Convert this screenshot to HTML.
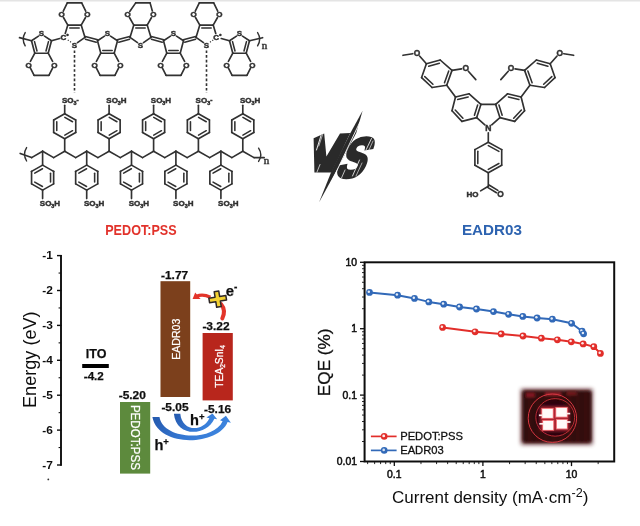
<!DOCTYPE html>
<html><head><meta charset="utf-8"><title>PEDOT:PSS vs EADR03</title>
<style>
html,body{margin:0;padding:0;background:#fff;}
body{width:640px;height:526px;overflow:hidden;font-family:"Liberation Sans",sans-serif;}
svg{display:block;}
</style></head><body>
<svg width="640" height="526" viewBox="0 0 640 526">
<defs>
<filter id="soft" x="-5%" y="-5%" width="110%" height="110%"><feGaussianBlur stdDeviation="0.35"/></filter>
<filter id="soft2" x="-10%" y="-10%" width="120%" height="120%"><feGaussianBlur stdDeviation="0.6"/></filter>
<filter id="soft3" x="-10%" y="-10%" width="120%" height="120%"><feGaussianBlur stdDeviation="0.75"/></filter>
<filter id="blur1" x="-10%" y="-10%" width="120%" height="120%"><feGaussianBlur stdDeviation="0.9"/></filter>
<filter id="blur2" x="-20%" y="-20%" width="140%" height="140%"><feGaussianBlur stdDeviation="1.5"/></filter>
<filter id="blur3" x="-20%" y="-20%" width="140%" height="140%"><feGaussianBlur stdDeviation="2.2"/></filter>
<radialGradient id="ballR" cx="35%" cy="35%" r="65%"><stop offset="0" stop-color="#ffd0cc"/><stop offset="0.35" stop-color="#ee3b34"/><stop offset="1" stop-color="#d81f1f"/></radialGradient>
<radialGradient id="ballB" cx="35%" cy="35%" r="65%"><stop offset="0" stop-color="#dfeeff"/><stop offset="0.4" stop-color="#4f8bd0"/><stop offset="1" stop-color="#2d68b4"/></radialGradient>
<linearGradient id="arrB" x1="0" y1="0" x2="1" y2="0.25"><stop offset="0" stop-color="#2458ac"/><stop offset="0.55" stop-color="#3577d2"/><stop offset="1" stop-color="#3c84de"/></linearGradient>
</defs>
<rect width="640" height="526" fill="#ffffff"/>
<rect x="0" y="0" width="640" height="1.5" fill="#e4e4e4"/>
<g filter="url(#soft)">
<line x1="38.5" y1="36.18" x2="31.5" y2="40.8" stroke="#303030" stroke-width="1.65" stroke-linecap="round" />
<line x1="44.5" y1="36.18" x2="51.5" y2="40.8" stroke="#303030" stroke-width="1.65" stroke-linecap="round" />
<line x1="31.5" y1="40.8" x2="34.8" y2="53.2" stroke="#303030" stroke-width="1.65" stroke-linecap="round" />
<line x1="34.8" y1="53.2" x2="48.2" y2="53.2" stroke="#303030" stroke-width="1.65" stroke-linecap="round" />
<line x1="48.2" y1="53.2" x2="51.5" y2="40.8" stroke="#303030" stroke-width="1.65" stroke-linecap="round" />
<line x1="34.52" y1="41.65" x2="37" y2="50.96" stroke="#303030" stroke-width="1.55" stroke-linecap="round" />
<line x1="46" y1="50.96" x2="48.48" y2="41.65" stroke="#303030" stroke-width="1.55" stroke-linecap="round" />
<line x1="34.8" y1="53.2" x2="30.4" y2="61.43" stroke="#303030" stroke-width="1.65" stroke-linecap="round" />
<line x1="48.2" y1="53.2" x2="52.6" y2="61.43" stroke="#303030" stroke-width="1.65" stroke-linecap="round" />
<line x1="30.32" y1="67.81" x2="34.1" y2="75.3" stroke="#303030" stroke-width="1.65" stroke-linecap="round" />
<line x1="52.68" y1="67.81" x2="48.9" y2="75.3" stroke="#303030" stroke-width="1.65" stroke-linecap="round" />
<line x1="34.1" y1="75.3" x2="48.9" y2="75.3" stroke="#303030" stroke-width="1.65" stroke-linecap="round" />
<text x="41.5" y="36.2" font-family="'Liberation Sans', sans-serif" font-size="8" font-weight="bold" text-anchor="middle" fill="#303030"  stroke="#303030" stroke-width="0.45">S</text>
<text x="28.7" y="67.5" font-family="'Liberation Sans', sans-serif" font-size="8" font-weight="bold" text-anchor="middle" fill="#303030"  stroke="#303030" stroke-width="0.45">O</text>
<text x="54.3" y="67.5" font-family="'Liberation Sans', sans-serif" font-size="8" font-weight="bold" text-anchor="middle" fill="#303030"  stroke="#303030" stroke-width="0.45">O</text>
<line x1="77.47" y1="42.56" x2="85" y2="37.4" stroke="#303030" stroke-width="1.65" stroke-linecap="round" />
<line x1="65.24" y1="33.39" x2="67.8" y2="25.1" stroke="#303030" stroke-width="1.65" stroke-linecap="round" />
<line x1="67.8" y1="25.1" x2="81.2" y2="25.1" stroke="#303030" stroke-width="1.65" stroke-linecap="round" />
<line x1="81.2" y1="25.1" x2="85" y2="37.4" stroke="#303030" stroke-width="1.65" stroke-linecap="round" />
<line x1="69.8" y1="27.9" x2="79.2" y2="27.9" stroke="#303030" stroke-width="1.55" stroke-linecap="round" />
<line x1="67.8" y1="25.1" x2="63.48" y2="17.53" stroke="#303030" stroke-width="1.65" stroke-linecap="round" />
<line x1="81.2" y1="25.1" x2="85.52" y2="17.53" stroke="#303030" stroke-width="1.65" stroke-linecap="round" />
<line x1="63.28" y1="11.16" x2="67.3" y2="2.9" stroke="#303030" stroke-width="1.65" stroke-linecap="round" />
<line x1="85.72" y1="11.16" x2="81.7" y2="2.9" stroke="#303030" stroke-width="1.65" stroke-linecap="round" />
<line x1="67.3" y1="2.9" x2="81.7" y2="2.9" stroke="#303030" stroke-width="1.65" stroke-linecap="round" />
<text x="74.5" y="47.5" font-family="'Liberation Sans', sans-serif" font-size="8" font-weight="bold" text-anchor="middle" fill="#303030"  stroke="#303030" stroke-width="0.45">S</text>
<text x="61.7" y="17.3" font-family="'Liberation Sans', sans-serif" font-size="8" font-weight="bold" text-anchor="middle" fill="#303030"  stroke="#303030" stroke-width="0.45">O</text>
<text x="87.3" y="17.3" font-family="'Liberation Sans', sans-serif" font-size="8" font-weight="bold" text-anchor="middle" fill="#303030"  stroke="#303030" stroke-width="0.45">O</text>
<line x1="104.5" y1="36.18" x2="97.5" y2="40.8" stroke="#303030" stroke-width="1.65" stroke-linecap="round" />
<line x1="110.5" y1="36.18" x2="117.5" y2="40.8" stroke="#303030" stroke-width="1.65" stroke-linecap="round" />
<line x1="97.5" y1="40.8" x2="100.8" y2="53.2" stroke="#303030" stroke-width="1.65" stroke-linecap="round" />
<line x1="100.8" y1="53.2" x2="114.2" y2="53.2" stroke="#303030" stroke-width="1.65" stroke-linecap="round" />
<line x1="114.2" y1="53.2" x2="117.5" y2="40.8" stroke="#303030" stroke-width="1.65" stroke-linecap="round" />
<line x1="102.8" y1="50.4" x2="112.2" y2="50.4" stroke="#303030" stroke-width="1.55" stroke-linecap="round" />
<line x1="100.8" y1="53.2" x2="96.4" y2="61.43" stroke="#303030" stroke-width="1.65" stroke-linecap="round" />
<line x1="114.2" y1="53.2" x2="118.6" y2="61.43" stroke="#303030" stroke-width="1.65" stroke-linecap="round" />
<line x1="96.32" y1="67.81" x2="100.1" y2="75.3" stroke="#303030" stroke-width="1.65" stroke-linecap="round" />
<line x1="118.68" y1="67.81" x2="114.9" y2="75.3" stroke="#303030" stroke-width="1.65" stroke-linecap="round" />
<line x1="100.1" y1="75.3" x2="114.9" y2="75.3" stroke="#303030" stroke-width="1.65" stroke-linecap="round" />
<text x="107.5" y="36.2" font-family="'Liberation Sans', sans-serif" font-size="8" font-weight="bold" text-anchor="middle" fill="#303030"  stroke="#303030" stroke-width="0.45">S</text>
<text x="94.7" y="67.5" font-family="'Liberation Sans', sans-serif" font-size="8" font-weight="bold" text-anchor="middle" fill="#303030"  stroke="#303030" stroke-width="0.45">O</text>
<text x="120.3" y="67.5" font-family="'Liberation Sans', sans-serif" font-size="8" font-weight="bold" text-anchor="middle" fill="#303030"  stroke="#303030" stroke-width="0.45">O</text>
<line x1="137.53" y1="42.56" x2="130" y2="37.4" stroke="#303030" stroke-width="1.65" stroke-linecap="round" />
<line x1="143.47" y1="42.56" x2="151" y2="37.4" stroke="#303030" stroke-width="1.65" stroke-linecap="round" />
<line x1="130" y1="37.4" x2="133.8" y2="25.1" stroke="#303030" stroke-width="1.65" stroke-linecap="round" />
<line x1="133.8" y1="25.1" x2="147.2" y2="25.1" stroke="#303030" stroke-width="1.65" stroke-linecap="round" />
<line x1="147.2" y1="25.1" x2="151" y2="37.4" stroke="#303030" stroke-width="1.65" stroke-linecap="round" />
<line x1="135.8" y1="27.9" x2="145.2" y2="27.9" stroke="#303030" stroke-width="1.55" stroke-linecap="round" />
<line x1="133.8" y1="25.1" x2="129.48" y2="17.53" stroke="#303030" stroke-width="1.65" stroke-linecap="round" />
<line x1="147.2" y1="25.1" x2="151.52" y2="17.53" stroke="#303030" stroke-width="1.65" stroke-linecap="round" />
<line x1="129.76" y1="11.44" x2="135.7" y2="2.9" stroke="#303030" stroke-width="1.65" stroke-linecap="round" />
<line x1="152.33" y1="10.93" x2="150.1" y2="2.9" stroke="#303030" stroke-width="1.65" stroke-linecap="round" />
<line x1="135.7" y1="2.9" x2="150.1" y2="2.9" stroke="#303030" stroke-width="1.65" stroke-linecap="round" />
<text x="140.5" y="47.5" font-family="'Liberation Sans', sans-serif" font-size="8" font-weight="bold" text-anchor="middle" fill="#303030"  stroke="#303030" stroke-width="0.45">S</text>
<text x="127.7" y="17.3" font-family="'Liberation Sans', sans-serif" font-size="8" font-weight="bold" text-anchor="middle" fill="#303030"  stroke="#303030" stroke-width="0.45">O</text>
<text x="153.3" y="17.3" font-family="'Liberation Sans', sans-serif" font-size="8" font-weight="bold" text-anchor="middle" fill="#303030"  stroke="#303030" stroke-width="0.45">O</text>
<line x1="170.5" y1="36.18" x2="163.5" y2="40.8" stroke="#303030" stroke-width="1.65" stroke-linecap="round" />
<line x1="176.5" y1="36.18" x2="183.5" y2="40.8" stroke="#303030" stroke-width="1.65" stroke-linecap="round" />
<line x1="163.5" y1="40.8" x2="166.8" y2="53.2" stroke="#303030" stroke-width="1.65" stroke-linecap="round" />
<line x1="166.8" y1="53.2" x2="180.2" y2="53.2" stroke="#303030" stroke-width="1.65" stroke-linecap="round" />
<line x1="180.2" y1="53.2" x2="183.5" y2="40.8" stroke="#303030" stroke-width="1.65" stroke-linecap="round" />
<line x1="168.8" y1="50.4" x2="178.2" y2="50.4" stroke="#303030" stroke-width="1.55" stroke-linecap="round" />
<line x1="166.8" y1="53.2" x2="162.4" y2="61.43" stroke="#303030" stroke-width="1.65" stroke-linecap="round" />
<line x1="180.2" y1="53.2" x2="184.6" y2="61.43" stroke="#303030" stroke-width="1.65" stroke-linecap="round" />
<line x1="162.32" y1="67.81" x2="166.1" y2="75.3" stroke="#303030" stroke-width="1.65" stroke-linecap="round" />
<line x1="184.68" y1="67.81" x2="180.9" y2="75.3" stroke="#303030" stroke-width="1.65" stroke-linecap="round" />
<line x1="166.1" y1="75.3" x2="180.9" y2="75.3" stroke="#303030" stroke-width="1.65" stroke-linecap="round" />
<text x="173.5" y="36.2" font-family="'Liberation Sans', sans-serif" font-size="8" font-weight="bold" text-anchor="middle" fill="#303030"  stroke="#303030" stroke-width="0.45">S</text>
<text x="160.7" y="67.5" font-family="'Liberation Sans', sans-serif" font-size="8" font-weight="bold" text-anchor="middle" fill="#303030"  stroke="#303030" stroke-width="0.45">O</text>
<text x="186.3" y="67.5" font-family="'Liberation Sans', sans-serif" font-size="8" font-weight="bold" text-anchor="middle" fill="#303030"  stroke="#303030" stroke-width="0.45">O</text>
<line x1="203.53" y1="42.56" x2="196" y2="37.4" stroke="#303030" stroke-width="1.65" stroke-linecap="round" />
<line x1="196" y1="37.4" x2="199.8" y2="25.1" stroke="#303030" stroke-width="1.65" stroke-linecap="round" />
<line x1="199.8" y1="25.1" x2="213.2" y2="25.1" stroke="#303030" stroke-width="1.65" stroke-linecap="round" />
<line x1="213.2" y1="25.1" x2="215.76" y2="33.39" stroke="#303030" stroke-width="1.65" stroke-linecap="round" />
<line x1="201.8" y1="27.9" x2="211.2" y2="27.9" stroke="#303030" stroke-width="1.55" stroke-linecap="round" />
<line x1="199.8" y1="25.1" x2="195.48" y2="17.53" stroke="#303030" stroke-width="1.65" stroke-linecap="round" />
<line x1="213.2" y1="25.1" x2="217.52" y2="17.53" stroke="#303030" stroke-width="1.65" stroke-linecap="round" />
<line x1="195.28" y1="11.16" x2="199.3" y2="2.9" stroke="#303030" stroke-width="1.65" stroke-linecap="round" />
<line x1="217.72" y1="11.16" x2="213.7" y2="2.9" stroke="#303030" stroke-width="1.65" stroke-linecap="round" />
<line x1="199.3" y1="2.9" x2="213.7" y2="2.9" stroke="#303030" stroke-width="1.65" stroke-linecap="round" />
<text x="206.5" y="47.5" font-family="'Liberation Sans', sans-serif" font-size="8" font-weight="bold" text-anchor="middle" fill="#303030"  stroke="#303030" stroke-width="0.45">S</text>
<text x="193.7" y="17.3" font-family="'Liberation Sans', sans-serif" font-size="8" font-weight="bold" text-anchor="middle" fill="#303030"  stroke="#303030" stroke-width="0.45">O</text>
<text x="219.3" y="17.3" font-family="'Liberation Sans', sans-serif" font-size="8" font-weight="bold" text-anchor="middle" fill="#303030"  stroke="#303030" stroke-width="0.45">O</text>
<line x1="236.5" y1="36.18" x2="229.5" y2="40.8" stroke="#303030" stroke-width="1.65" stroke-linecap="round" />
<line x1="242.5" y1="36.18" x2="249.5" y2="40.8" stroke="#303030" stroke-width="1.65" stroke-linecap="round" />
<line x1="229.5" y1="40.8" x2="232.8" y2="53.2" stroke="#303030" stroke-width="1.65" stroke-linecap="round" />
<line x1="232.8" y1="53.2" x2="246.2" y2="53.2" stroke="#303030" stroke-width="1.65" stroke-linecap="round" />
<line x1="246.2" y1="53.2" x2="249.5" y2="40.8" stroke="#303030" stroke-width="1.65" stroke-linecap="round" />
<line x1="232.52" y1="41.65" x2="235" y2="50.96" stroke="#303030" stroke-width="1.55" stroke-linecap="round" />
<line x1="244" y1="50.96" x2="246.48" y2="41.65" stroke="#303030" stroke-width="1.55" stroke-linecap="round" />
<line x1="232.8" y1="53.2" x2="228.4" y2="61.43" stroke="#303030" stroke-width="1.65" stroke-linecap="round" />
<line x1="246.2" y1="53.2" x2="250.6" y2="61.43" stroke="#303030" stroke-width="1.65" stroke-linecap="round" />
<line x1="228.32" y1="67.81" x2="232.1" y2="75.3" stroke="#303030" stroke-width="1.65" stroke-linecap="round" />
<line x1="250.68" y1="67.81" x2="246.9" y2="75.3" stroke="#303030" stroke-width="1.65" stroke-linecap="round" />
<line x1="232.1" y1="75.3" x2="246.9" y2="75.3" stroke="#303030" stroke-width="1.65" stroke-linecap="round" />
<text x="239.5" y="36.2" font-family="'Liberation Sans', sans-serif" font-size="8" font-weight="bold" text-anchor="middle" fill="#303030"  stroke="#303030" stroke-width="0.45">S</text>
<text x="226.7" y="67.5" font-family="'Liberation Sans', sans-serif" font-size="8" font-weight="bold" text-anchor="middle" fill="#303030"  stroke="#303030" stroke-width="0.45">O</text>
<text x="252.3" y="67.5" font-family="'Liberation Sans', sans-serif" font-size="8" font-weight="bold" text-anchor="middle" fill="#303030"  stroke="#303030" stroke-width="0.45">O</text>
<text x="216.1" y="40.3" font-family="'Liberation Sans', sans-serif" font-size="8" font-weight="bold" text-anchor="middle" fill="#303030"  stroke="#303030" stroke-width="0.45">C</text>
<text x="220.3" y="37" font-family="'Liberation Sans', sans-serif" font-size="7.4" font-weight="bold" text-anchor="middle" fill="#303030"  stroke="#303030" stroke-width="0.45">&#8226;</text>
<line x1="213.21" y1="40" x2="209.63" y2="42.45" stroke="#303030" stroke-width="1.2" stroke-linecap="butt" stroke-dasharray="1.1 1.7"/>
<text x="63.4" y="40.3" font-family="'Liberation Sans', sans-serif" font-size="8" font-weight="bold" text-anchor="middle" fill="#303030"  stroke="#303030" stroke-width="0.45">C</text>
<text x="67.6" y="37" font-family="'Liberation Sans', sans-serif" font-size="7.4" font-weight="bold" text-anchor="middle" fill="#303030"  stroke="#303030" stroke-width="0.45">&#8226;</text>
<line x1="67.79" y1="40" x2="71.37" y2="42.45" stroke="#303030" stroke-width="1.2" stroke-linecap="butt" stroke-dasharray="1.1 1.7"/>
<line x1="51.5" y1="40.8" x2="59.75" y2="38.55" stroke="#303030" stroke-width="1.65" stroke-linecap="round" />
<line x1="85.26" y1="36.44" x2="97.76" y2="39.84" stroke="#303030" stroke-width="1.55" stroke-linecap="round" />
<line x1="85.42" y1="39.28" x2="96.19" y2="42.2" stroke="#303030" stroke-width="1.55" stroke-linecap="round" />
<line x1="117.24" y1="39.84" x2="129.74" y2="36.44" stroke="#303030" stroke-width="1.55" stroke-linecap="round" />
<line x1="118.81" y1="42.2" x2="129.58" y2="39.28" stroke="#303030" stroke-width="1.55" stroke-linecap="round" />
<line x1="151.26" y1="36.44" x2="163.76" y2="39.84" stroke="#303030" stroke-width="1.55" stroke-linecap="round" />
<line x1="151.42" y1="39.28" x2="162.19" y2="42.2" stroke="#303030" stroke-width="1.55" stroke-linecap="round" />
<line x1="183.24" y1="39.84" x2="195.74" y2="36.44" stroke="#303030" stroke-width="1.55" stroke-linecap="round" />
<line x1="184.81" y1="42.2" x2="195.58" y2="39.28" stroke="#303030" stroke-width="1.55" stroke-linecap="round" />
<line x1="221.25" y1="38.55" x2="229.5" y2="40.8" stroke="#303030" stroke-width="1.65" stroke-linecap="round" />
<line x1="19.5" y1="37.6" x2="31.5" y2="40.8" stroke="#303030" stroke-width="1.65" stroke-linecap="round" />
<path d="M25.2 32.6 Q21.2 39.2 25.2 45.8" fill="none" stroke="#303030" stroke-width="1.4" stroke-linecap="round"/>
<line x1="249.5" y1="40.8" x2="262.6" y2="37.7" stroke="#303030" stroke-width="1.65" stroke-linecap="round" />
<path d="M257.6 32.6 Q261.8 39.2 257.6 45.8" fill="none" stroke="#303030" stroke-width="1.4" stroke-linecap="round"/>
<text x="264.6" y="49" font-family="'Liberation Serif', sans-serif" font-size="11" font-weight="normal" text-anchor="middle" fill="#303030"  stroke="#303030" stroke-width="0.45">n</text>
<line x1="74.5" y1="50.4" x2="74.5" y2="93" stroke="#303030" stroke-width="1.6" stroke-linecap="butt" stroke-dasharray="2.6 2.1"/>
<line x1="206.5" y1="50.4" x2="206.5" y2="93" stroke="#303030" stroke-width="1.6" stroke-linecap="butt" stroke-dasharray="2.6 2.1"/>
<line x1="31.6" y1="157.6" x2="42.6" y2="151.2" stroke="#303030" stroke-width="1.65" stroke-linecap="round" />
<line x1="42.6" y1="151.2" x2="53.65" y2="157.6" stroke="#303030" stroke-width="1.65" stroke-linecap="round" />
<line x1="53.65" y1="157.6" x2="64.7" y2="151.2" stroke="#303030" stroke-width="1.65" stroke-linecap="round" />
<line x1="64.7" y1="151.2" x2="75.7" y2="157.6" stroke="#303030" stroke-width="1.65" stroke-linecap="round" />
<line x1="75.7" y1="157.6" x2="86.7" y2="151.2" stroke="#303030" stroke-width="1.65" stroke-linecap="round" />
<line x1="86.7" y1="151.2" x2="97.9" y2="157.6" stroke="#303030" stroke-width="1.65" stroke-linecap="round" />
<line x1="97.9" y1="157.6" x2="109.1" y2="151.2" stroke="#303030" stroke-width="1.65" stroke-linecap="round" />
<line x1="109.1" y1="151.2" x2="120.3" y2="157.6" stroke="#303030" stroke-width="1.65" stroke-linecap="round" />
<line x1="120.3" y1="157.6" x2="131.5" y2="151.2" stroke="#303030" stroke-width="1.65" stroke-linecap="round" />
<line x1="131.5" y1="151.2" x2="142.55" y2="157.6" stroke="#303030" stroke-width="1.65" stroke-linecap="round" />
<line x1="142.55" y1="157.6" x2="153.6" y2="151.2" stroke="#303030" stroke-width="1.65" stroke-linecap="round" />
<line x1="153.6" y1="151.2" x2="164.75" y2="157.6" stroke="#303030" stroke-width="1.65" stroke-linecap="round" />
<line x1="164.75" y1="157.6" x2="175.9" y2="151.2" stroke="#303030" stroke-width="1.65" stroke-linecap="round" />
<line x1="175.9" y1="151.2" x2="187.15" y2="157.6" stroke="#303030" stroke-width="1.65" stroke-linecap="round" />
<line x1="187.15" y1="157.6" x2="198.4" y2="151.2" stroke="#303030" stroke-width="1.65" stroke-linecap="round" />
<line x1="198.4" y1="151.2" x2="209.65" y2="157.6" stroke="#303030" stroke-width="1.65" stroke-linecap="round" />
<line x1="209.65" y1="157.6" x2="220.9" y2="151.2" stroke="#303030" stroke-width="1.65" stroke-linecap="round" />
<line x1="220.9" y1="151.2" x2="231.85" y2="157.6" stroke="#303030" stroke-width="1.65" stroke-linecap="round" />
<line x1="231.85" y1="157.6" x2="242.8" y2="151.2" stroke="#303030" stroke-width="1.65" stroke-linecap="round" />
<line x1="242.8" y1="151.2" x2="254" y2="157.6" stroke="#303030" stroke-width="1.65" stroke-linecap="round" />
<line x1="20.2" y1="153.4" x2="31.6" y2="157.6" stroke="#303030" stroke-width="1.65" stroke-linecap="round" />
<path d="M26.6 147.6 Q22.4 154.2 26.6 161.0" fill="none" stroke="#303030" stroke-width="1.4" stroke-linecap="round"/>
<line x1="254" y1="157.6" x2="264.2" y2="157.6" stroke="#303030" stroke-width="1.65" stroke-linecap="round" />
<path d="M258.6 148.2 Q263.0 154.8 258.6 161.4" fill="none" stroke="#303030" stroke-width="1.4" stroke-linecap="round"/>
<text x="266.4" y="163.8" font-family="'Liberation Serif', sans-serif" font-size="11" font-weight="normal" text-anchor="middle" fill="#303030"  stroke="#303030" stroke-width="0.45">n</text>
<line x1="64.7" y1="113.7" x2="75.74" y2="119.95" stroke="#303030" stroke-width="1.65" stroke-linecap="round" />
<line x1="75.74" y1="119.95" x2="75.74" y2="132.45" stroke="#303030" stroke-width="1.65" stroke-linecap="round" />
<line x1="75.74" y1="132.45" x2="64.7" y2="138.7" stroke="#303030" stroke-width="1.65" stroke-linecap="round" />
<line x1="64.7" y1="138.7" x2="53.66" y2="132.45" stroke="#303030" stroke-width="1.65" stroke-linecap="round" />
<line x1="53.66" y1="132.45" x2="53.66" y2="119.95" stroke="#303030" stroke-width="1.65" stroke-linecap="round" />
<line x1="53.66" y1="119.95" x2="64.7" y2="113.7" stroke="#303030" stroke-width="1.65" stroke-linecap="round" />
<line x1="64.83" y1="117.33" x2="72.56" y2="121.71" stroke="#303030" stroke-width="1.55" stroke-linecap="round" />
<line x1="72.56" y1="130.69" x2="64.83" y2="135.07" stroke="#303030" stroke-width="1.55" stroke-linecap="round" />
<line x1="56.76" y1="130.55" x2="56.76" y2="121.85" stroke="#303030" stroke-width="1.55" stroke-linecap="round" />
<line x1="64.7" y1="138.7" x2="64.7" y2="151.2" stroke="#303030" stroke-width="1.65" stroke-linecap="round" />
<line x1="64.7" y1="113.7" x2="64.7" y2="105.2" stroke="#303030" stroke-width="1.65" stroke-linecap="round" />
<text x="61.9" y="103.2" font-family="'Liberation Sans', sans-serif" font-size="8" font-weight="bold" text-anchor="start" fill="#303030"  stroke="#303030" stroke-width="0.45">SO<tspan font-size="5.4" dy="1.7">3</tspan><tspan dy="-1.7"><tspan font-size="6.5" dy="-2.8">-</tspan></tspan></text>
<line x1="109.1" y1="113.7" x2="120.14" y2="119.95" stroke="#303030" stroke-width="1.65" stroke-linecap="round" />
<line x1="120.14" y1="119.95" x2="120.14" y2="132.45" stroke="#303030" stroke-width="1.65" stroke-linecap="round" />
<line x1="120.14" y1="132.45" x2="109.1" y2="138.7" stroke="#303030" stroke-width="1.65" stroke-linecap="round" />
<line x1="109.1" y1="138.7" x2="98.06" y2="132.45" stroke="#303030" stroke-width="1.65" stroke-linecap="round" />
<line x1="98.06" y1="132.45" x2="98.06" y2="119.95" stroke="#303030" stroke-width="1.65" stroke-linecap="round" />
<line x1="98.06" y1="119.95" x2="109.1" y2="113.7" stroke="#303030" stroke-width="1.65" stroke-linecap="round" />
<line x1="109.23" y1="117.33" x2="116.96" y2="121.71" stroke="#303030" stroke-width="1.55" stroke-linecap="round" />
<line x1="116.96" y1="130.69" x2="109.23" y2="135.07" stroke="#303030" stroke-width="1.55" stroke-linecap="round" />
<line x1="101.16" y1="130.55" x2="101.16" y2="121.85" stroke="#303030" stroke-width="1.55" stroke-linecap="round" />
<line x1="109.1" y1="138.7" x2="109.1" y2="151.2" stroke="#303030" stroke-width="1.65" stroke-linecap="round" />
<line x1="109.1" y1="113.7" x2="109.1" y2="105.2" stroke="#303030" stroke-width="1.65" stroke-linecap="round" />
<text x="106.3" y="103.2" font-family="'Liberation Sans', sans-serif" font-size="8" font-weight="bold" text-anchor="start" fill="#303030"  stroke="#303030" stroke-width="0.45">SO<tspan font-size="5.4" dy="1.7">3</tspan><tspan dy="-1.7">H</tspan></text>
<line x1="153.6" y1="113.7" x2="164.64" y2="119.95" stroke="#303030" stroke-width="1.65" stroke-linecap="round" />
<line x1="164.64" y1="119.95" x2="164.64" y2="132.45" stroke="#303030" stroke-width="1.65" stroke-linecap="round" />
<line x1="164.64" y1="132.45" x2="153.6" y2="138.7" stroke="#303030" stroke-width="1.65" stroke-linecap="round" />
<line x1="153.6" y1="138.7" x2="142.56" y2="132.45" stroke="#303030" stroke-width="1.65" stroke-linecap="round" />
<line x1="142.56" y1="132.45" x2="142.56" y2="119.95" stroke="#303030" stroke-width="1.65" stroke-linecap="round" />
<line x1="142.56" y1="119.95" x2="153.6" y2="113.7" stroke="#303030" stroke-width="1.65" stroke-linecap="round" />
<line x1="153.73" y1="117.33" x2="161.46" y2="121.71" stroke="#303030" stroke-width="1.55" stroke-linecap="round" />
<line x1="161.46" y1="130.69" x2="153.73" y2="135.07" stroke="#303030" stroke-width="1.55" stroke-linecap="round" />
<line x1="145.66" y1="130.55" x2="145.66" y2="121.85" stroke="#303030" stroke-width="1.55" stroke-linecap="round" />
<line x1="153.6" y1="138.7" x2="153.6" y2="151.2" stroke="#303030" stroke-width="1.65" stroke-linecap="round" />
<line x1="153.6" y1="113.7" x2="153.6" y2="105.2" stroke="#303030" stroke-width="1.65" stroke-linecap="round" />
<text x="150.8" y="103.2" font-family="'Liberation Sans', sans-serif" font-size="8" font-weight="bold" text-anchor="start" fill="#303030"  stroke="#303030" stroke-width="0.45">SO<tspan font-size="5.4" dy="1.7">3</tspan><tspan dy="-1.7">H</tspan></text>
<line x1="198.4" y1="113.7" x2="209.44" y2="119.95" stroke="#303030" stroke-width="1.65" stroke-linecap="round" />
<line x1="209.44" y1="119.95" x2="209.44" y2="132.45" stroke="#303030" stroke-width="1.65" stroke-linecap="round" />
<line x1="209.44" y1="132.45" x2="198.4" y2="138.7" stroke="#303030" stroke-width="1.65" stroke-linecap="round" />
<line x1="198.4" y1="138.7" x2="187.36" y2="132.45" stroke="#303030" stroke-width="1.65" stroke-linecap="round" />
<line x1="187.36" y1="132.45" x2="187.36" y2="119.95" stroke="#303030" stroke-width="1.65" stroke-linecap="round" />
<line x1="187.36" y1="119.95" x2="198.4" y2="113.7" stroke="#303030" stroke-width="1.65" stroke-linecap="round" />
<line x1="198.53" y1="117.33" x2="206.26" y2="121.71" stroke="#303030" stroke-width="1.55" stroke-linecap="round" />
<line x1="206.26" y1="130.69" x2="198.53" y2="135.07" stroke="#303030" stroke-width="1.55" stroke-linecap="round" />
<line x1="190.46" y1="130.55" x2="190.46" y2="121.85" stroke="#303030" stroke-width="1.55" stroke-linecap="round" />
<line x1="198.4" y1="138.7" x2="198.4" y2="151.2" stroke="#303030" stroke-width="1.65" stroke-linecap="round" />
<line x1="198.4" y1="113.7" x2="198.4" y2="105.2" stroke="#303030" stroke-width="1.65" stroke-linecap="round" />
<text x="195.6" y="103.2" font-family="'Liberation Sans', sans-serif" font-size="8" font-weight="bold" text-anchor="start" fill="#303030"  stroke="#303030" stroke-width="0.45">SO<tspan font-size="5.4" dy="1.7">3</tspan><tspan dy="-1.7"><tspan font-size="6.5" dy="-2.8">-</tspan></tspan></text>
<line x1="242.8" y1="113.7" x2="253.84" y2="119.95" stroke="#303030" stroke-width="1.65" stroke-linecap="round" />
<line x1="253.84" y1="119.95" x2="253.84" y2="132.45" stroke="#303030" stroke-width="1.65" stroke-linecap="round" />
<line x1="253.84" y1="132.45" x2="242.8" y2="138.7" stroke="#303030" stroke-width="1.65" stroke-linecap="round" />
<line x1="242.8" y1="138.7" x2="231.76" y2="132.45" stroke="#303030" stroke-width="1.65" stroke-linecap="round" />
<line x1="231.76" y1="132.45" x2="231.76" y2="119.95" stroke="#303030" stroke-width="1.65" stroke-linecap="round" />
<line x1="231.76" y1="119.95" x2="242.8" y2="113.7" stroke="#303030" stroke-width="1.65" stroke-linecap="round" />
<line x1="242.93" y1="117.33" x2="250.66" y2="121.71" stroke="#303030" stroke-width="1.55" stroke-linecap="round" />
<line x1="250.66" y1="130.69" x2="242.93" y2="135.07" stroke="#303030" stroke-width="1.55" stroke-linecap="round" />
<line x1="234.86" y1="130.55" x2="234.86" y2="121.85" stroke="#303030" stroke-width="1.55" stroke-linecap="round" />
<line x1="242.8" y1="138.7" x2="242.8" y2="151.2" stroke="#303030" stroke-width="1.65" stroke-linecap="round" />
<line x1="242.8" y1="113.7" x2="242.8" y2="105.2" stroke="#303030" stroke-width="1.65" stroke-linecap="round" />
<text x="240" y="103.2" font-family="'Liberation Sans', sans-serif" font-size="8" font-weight="bold" text-anchor="start" fill="#303030"  stroke="#303030" stroke-width="0.45">SO<tspan font-size="5.4" dy="1.7">3</tspan><tspan dy="-1.7">H</tspan></text>
<line x1="42.6" y1="165.1" x2="53.64" y2="171.35" stroke="#303030" stroke-width="1.65" stroke-linecap="round" />
<line x1="53.64" y1="171.35" x2="53.64" y2="183.85" stroke="#303030" stroke-width="1.65" stroke-linecap="round" />
<line x1="53.64" y1="183.85" x2="42.6" y2="190.1" stroke="#303030" stroke-width="1.65" stroke-linecap="round" />
<line x1="42.6" y1="190.1" x2="31.56" y2="183.85" stroke="#303030" stroke-width="1.65" stroke-linecap="round" />
<line x1="31.56" y1="183.85" x2="31.56" y2="171.35" stroke="#303030" stroke-width="1.65" stroke-linecap="round" />
<line x1="31.56" y1="171.35" x2="42.6" y2="165.1" stroke="#303030" stroke-width="1.65" stroke-linecap="round" />
<line x1="50.54" y1="173.25" x2="50.54" y2="181.95" stroke="#303030" stroke-width="1.55" stroke-linecap="round" />
<line x1="42.47" y1="186.47" x2="34.74" y2="182.09" stroke="#303030" stroke-width="1.55" stroke-linecap="round" />
<line x1="34.74" y1="173.11" x2="42.47" y2="168.73" stroke="#303030" stroke-width="1.55" stroke-linecap="round" />
<line x1="42.6" y1="165.1" x2="42.6" y2="151.2" stroke="#303030" stroke-width="1.65" stroke-linecap="round" />
<line x1="42.6" y1="190.1" x2="42.6" y2="198.6" stroke="#303030" stroke-width="1.65" stroke-linecap="round" />
<text x="39.8" y="206" font-family="'Liberation Sans', sans-serif" font-size="8" font-weight="bold" text-anchor="start" fill="#303030"  stroke="#303030" stroke-width="0.45">SO<tspan font-size="5.4" dy="1.7">3</tspan><tspan dy="-1.7">H</tspan></text>
<line x1="86.7" y1="165.1" x2="97.74" y2="171.35" stroke="#303030" stroke-width="1.65" stroke-linecap="round" />
<line x1="97.74" y1="171.35" x2="97.74" y2="183.85" stroke="#303030" stroke-width="1.65" stroke-linecap="round" />
<line x1="97.74" y1="183.85" x2="86.7" y2="190.1" stroke="#303030" stroke-width="1.65" stroke-linecap="round" />
<line x1="86.7" y1="190.1" x2="75.66" y2="183.85" stroke="#303030" stroke-width="1.65" stroke-linecap="round" />
<line x1="75.66" y1="183.85" x2="75.66" y2="171.35" stroke="#303030" stroke-width="1.65" stroke-linecap="round" />
<line x1="75.66" y1="171.35" x2="86.7" y2="165.1" stroke="#303030" stroke-width="1.65" stroke-linecap="round" />
<line x1="94.64" y1="173.25" x2="94.64" y2="181.95" stroke="#303030" stroke-width="1.55" stroke-linecap="round" />
<line x1="86.57" y1="186.47" x2="78.84" y2="182.09" stroke="#303030" stroke-width="1.55" stroke-linecap="round" />
<line x1="78.84" y1="173.11" x2="86.57" y2="168.73" stroke="#303030" stroke-width="1.55" stroke-linecap="round" />
<line x1="86.7" y1="165.1" x2="86.7" y2="151.2" stroke="#303030" stroke-width="1.65" stroke-linecap="round" />
<line x1="86.7" y1="190.1" x2="86.7" y2="198.6" stroke="#303030" stroke-width="1.65" stroke-linecap="round" />
<text x="83.9" y="206" font-family="'Liberation Sans', sans-serif" font-size="8" font-weight="bold" text-anchor="start" fill="#303030"  stroke="#303030" stroke-width="0.45">SO<tspan font-size="5.4" dy="1.7">3</tspan><tspan dy="-1.7">H</tspan></text>
<line x1="131.5" y1="165.1" x2="142.54" y2="171.35" stroke="#303030" stroke-width="1.65" stroke-linecap="round" />
<line x1="142.54" y1="171.35" x2="142.54" y2="183.85" stroke="#303030" stroke-width="1.65" stroke-linecap="round" />
<line x1="142.54" y1="183.85" x2="131.5" y2="190.1" stroke="#303030" stroke-width="1.65" stroke-linecap="round" />
<line x1="131.5" y1="190.1" x2="120.46" y2="183.85" stroke="#303030" stroke-width="1.65" stroke-linecap="round" />
<line x1="120.46" y1="183.85" x2="120.46" y2="171.35" stroke="#303030" stroke-width="1.65" stroke-linecap="round" />
<line x1="120.46" y1="171.35" x2="131.5" y2="165.1" stroke="#303030" stroke-width="1.65" stroke-linecap="round" />
<line x1="139.44" y1="173.25" x2="139.44" y2="181.95" stroke="#303030" stroke-width="1.55" stroke-linecap="round" />
<line x1="131.37" y1="186.47" x2="123.64" y2="182.09" stroke="#303030" stroke-width="1.55" stroke-linecap="round" />
<line x1="123.64" y1="173.11" x2="131.37" y2="168.73" stroke="#303030" stroke-width="1.55" stroke-linecap="round" />
<line x1="131.5" y1="165.1" x2="131.5" y2="151.2" stroke="#303030" stroke-width="1.65" stroke-linecap="round" />
<line x1="131.5" y1="190.1" x2="131.5" y2="198.6" stroke="#303030" stroke-width="1.65" stroke-linecap="round" />
<text x="128.7" y="206" font-family="'Liberation Sans', sans-serif" font-size="8" font-weight="bold" text-anchor="start" fill="#303030"  stroke="#303030" stroke-width="0.45">SO<tspan font-size="5.4" dy="1.7">3</tspan><tspan dy="-1.7">H</tspan></text>
<line x1="175.9" y1="165.1" x2="186.94" y2="171.35" stroke="#303030" stroke-width="1.65" stroke-linecap="round" />
<line x1="186.94" y1="171.35" x2="186.94" y2="183.85" stroke="#303030" stroke-width="1.65" stroke-linecap="round" />
<line x1="186.94" y1="183.85" x2="175.9" y2="190.1" stroke="#303030" stroke-width="1.65" stroke-linecap="round" />
<line x1="175.9" y1="190.1" x2="164.86" y2="183.85" stroke="#303030" stroke-width="1.65" stroke-linecap="round" />
<line x1="164.86" y1="183.85" x2="164.86" y2="171.35" stroke="#303030" stroke-width="1.65" stroke-linecap="round" />
<line x1="164.86" y1="171.35" x2="175.9" y2="165.1" stroke="#303030" stroke-width="1.65" stroke-linecap="round" />
<line x1="183.84" y1="173.25" x2="183.84" y2="181.95" stroke="#303030" stroke-width="1.55" stroke-linecap="round" />
<line x1="175.77" y1="186.47" x2="168.04" y2="182.09" stroke="#303030" stroke-width="1.55" stroke-linecap="round" />
<line x1="168.04" y1="173.11" x2="175.77" y2="168.73" stroke="#303030" stroke-width="1.55" stroke-linecap="round" />
<line x1="175.9" y1="165.1" x2="175.9" y2="151.2" stroke="#303030" stroke-width="1.65" stroke-linecap="round" />
<line x1="175.9" y1="190.1" x2="175.9" y2="198.6" stroke="#303030" stroke-width="1.65" stroke-linecap="round" />
<text x="173.1" y="206" font-family="'Liberation Sans', sans-serif" font-size="8" font-weight="bold" text-anchor="start" fill="#303030"  stroke="#303030" stroke-width="0.45">SO<tspan font-size="5.4" dy="1.7">3</tspan><tspan dy="-1.7">H</tspan></text>
<line x1="220.9" y1="165.1" x2="231.94" y2="171.35" stroke="#303030" stroke-width="1.65" stroke-linecap="round" />
<line x1="231.94" y1="171.35" x2="231.94" y2="183.85" stroke="#303030" stroke-width="1.65" stroke-linecap="round" />
<line x1="231.94" y1="183.85" x2="220.9" y2="190.1" stroke="#303030" stroke-width="1.65" stroke-linecap="round" />
<line x1="220.9" y1="190.1" x2="209.86" y2="183.85" stroke="#303030" stroke-width="1.65" stroke-linecap="round" />
<line x1="209.86" y1="183.85" x2="209.86" y2="171.35" stroke="#303030" stroke-width="1.65" stroke-linecap="round" />
<line x1="209.86" y1="171.35" x2="220.9" y2="165.1" stroke="#303030" stroke-width="1.65" stroke-linecap="round" />
<line x1="228.84" y1="173.25" x2="228.84" y2="181.95" stroke="#303030" stroke-width="1.55" stroke-linecap="round" />
<line x1="220.77" y1="186.47" x2="213.04" y2="182.09" stroke="#303030" stroke-width="1.55" stroke-linecap="round" />
<line x1="213.04" y1="173.11" x2="220.77" y2="168.73" stroke="#303030" stroke-width="1.55" stroke-linecap="round" />
<line x1="220.9" y1="165.1" x2="220.9" y2="151.2" stroke="#303030" stroke-width="1.65" stroke-linecap="round" />
<line x1="220.9" y1="190.1" x2="220.9" y2="198.6" stroke="#303030" stroke-width="1.65" stroke-linecap="round" />
<text x="218.1" y="206" font-family="'Liberation Sans', sans-serif" font-size="8" font-weight="bold" text-anchor="start" fill="#303030"  stroke="#303030" stroke-width="0.45">SO<tspan font-size="5.4" dy="1.7">3</tspan><tspan dy="-1.7">H</tspan></text>
<text x="105.2" y="235.3" font-family="'Liberation Sans', sans-serif" font-size="14.6" font-weight="bold" text-anchor="start" fill="#e2332c" stroke="none" textLength="71.5" lengthAdjust="spacingAndGlyphs">PEDOT:PSS</text>
<line x1="480.9" y1="104.4" x2="469.1" y2="93.8" stroke="#303030" stroke-width="1.65" stroke-linecap="round" />
<line x1="469.1" y1="93.8" x2="455.5" y2="97" stroke="#303030" stroke-width="1.65" stroke-linecap="round" />
<line x1="455.5" y1="97" x2="452" y2="110.8" stroke="#303030" stroke-width="1.65" stroke-linecap="round" />
<line x1="452" y1="110.8" x2="461.9" y2="121.4" stroke="#303030" stroke-width="1.65" stroke-linecap="round" />
<line x1="461.9" y1="121.4" x2="476.7" y2="117.6" stroke="#303030" stroke-width="1.65" stroke-linecap="round" />
<line x1="476.7" y1="117.6" x2="480.9" y2="104.4" stroke="#303030" stroke-width="1.65" stroke-linecap="round" />
<line x1="468.21" y1="96.99" x2="457.72" y2="99.46" stroke="#303030" stroke-width="1.55" stroke-linecap="round" />
<line x1="455.21" y1="109.99" x2="462.93" y2="118.25" stroke="#303030" stroke-width="1.55" stroke-linecap="round" />
<line x1="474.42" y1="115.2" x2="477.65" y2="105.05" stroke="#303030" stroke-width="1.55" stroke-linecap="round" />
<line x1="476.7" y1="117.6" x2="484.85" y2="124.76" stroke="#303030" stroke-width="1.65" stroke-linecap="round" />
<line x1="455.5" y1="97" x2="446.7" y2="85.2" stroke="#303030" stroke-width="1.65" stroke-linecap="round" />
<line x1="446.7" y1="85.2" x2="452" y2="70.4" stroke="#303030" stroke-width="1.65" stroke-linecap="round" />
<line x1="452" y1="70.4" x2="440.2" y2="60" stroke="#303030" stroke-width="1.65" stroke-linecap="round" />
<line x1="440.2" y1="60" x2="426.4" y2="63.8" stroke="#303030" stroke-width="1.65" stroke-linecap="round" />
<line x1="426.4" y1="63.8" x2="421.6" y2="77.6" stroke="#303030" stroke-width="1.65" stroke-linecap="round" />
<line x1="421.6" y1="77.6" x2="432.1" y2="87.5" stroke="#303030" stroke-width="1.65" stroke-linecap="round" />
<line x1="432.1" y1="87.5" x2="446.7" y2="85.2" stroke="#303030" stroke-width="1.65" stroke-linecap="round" />
<line x1="444.51" y1="82.72" x2="448.73" y2="70.93" stroke="#303030" stroke-width="1.55" stroke-linecap="round" />
<line x1="439.43" y1="63.22" x2="428.71" y2="66.17" stroke="#303030" stroke-width="1.55" stroke-linecap="round" />
<line x1="424.75" y1="76.59" x2="432.93" y2="84.29" stroke="#303030" stroke-width="1.55" stroke-linecap="round" />
<line x1="452" y1="70.4" x2="461.55" y2="68.87" stroke="#303030" stroke-width="1.65" stroke-linecap="round" />
<line x1="468.35" y1="71.19" x2="475.8" y2="79.6" stroke="#303030" stroke-width="1.65" stroke-linecap="round" />
<line x1="426.4" y1="63.8" x2="419.54" y2="56" stroke="#303030" stroke-width="1.65" stroke-linecap="round" />
<line x1="412.76" y1="53.69" x2="403" y2="55.3" stroke="#303030" stroke-width="1.65" stroke-linecap="round" />
<text x="465.7" y="71.2" font-family="'Liberation Sans', sans-serif" font-size="8.4" font-weight="bold" text-anchor="middle" fill="#303030"  stroke="#303030" stroke-width="0.45">O</text>
<text x="416.9" y="56" font-family="'Liberation Sans', sans-serif" font-size="8.4" font-weight="bold" text-anchor="middle" fill="#303030"  stroke="#303030" stroke-width="0.45">O</text>
<line x1="495.7" y1="104.4" x2="507.5" y2="93.8" stroke="#303030" stroke-width="1.65" stroke-linecap="round" />
<line x1="507.5" y1="93.8" x2="521.1" y2="97" stroke="#303030" stroke-width="1.65" stroke-linecap="round" />
<line x1="521.1" y1="97" x2="524.6" y2="110.8" stroke="#303030" stroke-width="1.65" stroke-linecap="round" />
<line x1="524.6" y1="110.8" x2="514.7" y2="121.4" stroke="#303030" stroke-width="1.65" stroke-linecap="round" />
<line x1="514.7" y1="121.4" x2="499.9" y2="117.6" stroke="#303030" stroke-width="1.65" stroke-linecap="round" />
<line x1="499.9" y1="117.6" x2="495.7" y2="104.4" stroke="#303030" stroke-width="1.65" stroke-linecap="round" />
<line x1="508.39" y1="96.99" x2="518.88" y2="99.46" stroke="#303030" stroke-width="1.55" stroke-linecap="round" />
<line x1="521.39" y1="109.99" x2="513.67" y2="118.25" stroke="#303030" stroke-width="1.55" stroke-linecap="round" />
<line x1="502.18" y1="115.2" x2="498.95" y2="105.05" stroke="#303030" stroke-width="1.55" stroke-linecap="round" />
<line x1="499.9" y1="117.6" x2="491.75" y2="124.76" stroke="#303030" stroke-width="1.65" stroke-linecap="round" />
<line x1="521.1" y1="97" x2="529.9" y2="85.2" stroke="#303030" stroke-width="1.65" stroke-linecap="round" />
<line x1="529.9" y1="85.2" x2="524.6" y2="70.4" stroke="#303030" stroke-width="1.65" stroke-linecap="round" />
<line x1="524.6" y1="70.4" x2="536.4" y2="60" stroke="#303030" stroke-width="1.65" stroke-linecap="round" />
<line x1="536.4" y1="60" x2="550.2" y2="63.8" stroke="#303030" stroke-width="1.65" stroke-linecap="round" />
<line x1="550.2" y1="63.8" x2="555" y2="77.6" stroke="#303030" stroke-width="1.65" stroke-linecap="round" />
<line x1="555" y1="77.6" x2="544.5" y2="87.5" stroke="#303030" stroke-width="1.65" stroke-linecap="round" />
<line x1="544.5" y1="87.5" x2="529.9" y2="85.2" stroke="#303030" stroke-width="1.65" stroke-linecap="round" />
<line x1="532.09" y1="82.72" x2="527.87" y2="70.93" stroke="#303030" stroke-width="1.55" stroke-linecap="round" />
<line x1="537.17" y1="63.22" x2="547.89" y2="66.17" stroke="#303030" stroke-width="1.55" stroke-linecap="round" />
<line x1="551.85" y1="76.59" x2="543.67" y2="84.29" stroke="#303030" stroke-width="1.55" stroke-linecap="round" />
<line x1="524.6" y1="70.4" x2="515.05" y2="68.87" stroke="#303030" stroke-width="1.65" stroke-linecap="round" />
<line x1="508.25" y1="71.19" x2="500.8" y2="79.6" stroke="#303030" stroke-width="1.65" stroke-linecap="round" />
<line x1="550.2" y1="63.8" x2="557.06" y2="56" stroke="#303030" stroke-width="1.65" stroke-linecap="round" />
<line x1="563.84" y1="53.69" x2="573.6" y2="55.3" stroke="#303030" stroke-width="1.65" stroke-linecap="round" />
<text x="510.9" y="71.2" font-family="'Liberation Sans', sans-serif" font-size="8.4" font-weight="bold" text-anchor="middle" fill="#303030"  stroke="#303030" stroke-width="0.45">O</text>
<text x="559.7" y="56" font-family="'Liberation Sans', sans-serif" font-size="8.4" font-weight="bold" text-anchor="middle" fill="#303030"  stroke="#303030" stroke-width="0.45">O</text>
<line x1="480.9" y1="104.4" x2="495.7" y2="104.4" stroke="#303030" stroke-width="1.65" stroke-linecap="round" />
<text x="488.3" y="130.9" font-family="'Liberation Sans', sans-serif" font-size="8.6" font-weight="bold" text-anchor="middle" fill="#303030"  stroke="#303030" stroke-width="0.45">N</text>
<line x1="488.3" y1="132.8" x2="488.3" y2="142.3" stroke="#303030" stroke-width="1.65" stroke-linecap="round" />
<line x1="488.3" y1="142.3" x2="501.7" y2="149.6" stroke="#303030" stroke-width="1.65" stroke-linecap="round" />
<line x1="501.7" y1="149.6" x2="501.7" y2="165.2" stroke="#303030" stroke-width="1.65" stroke-linecap="round" />
<line x1="501.7" y1="165.2" x2="488.3" y2="172.7" stroke="#303030" stroke-width="1.65" stroke-linecap="round" />
<line x1="488.3" y1="172.7" x2="474.9" y2="165.2" stroke="#303030" stroke-width="1.65" stroke-linecap="round" />
<line x1="474.9" y1="165.2" x2="474.9" y2="149.6" stroke="#303030" stroke-width="1.65" stroke-linecap="round" />
<line x1="474.9" y1="149.6" x2="488.3" y2="142.3" stroke="#303030" stroke-width="1.65" stroke-linecap="round" />
<line x1="488.32" y1="145.61" x2="498.91" y2="151.38" stroke="#303030" stroke-width="1.55" stroke-linecap="round" />
<line x1="498.89" y1="163.45" x2="488.28" y2="169.39" stroke="#303030" stroke-width="1.55" stroke-linecap="round" />
<line x1="477.8" y1="163.6" x2="477.8" y2="151.2" stroke="#303030" stroke-width="1.55" stroke-linecap="round" />
<line x1="488.3" y1="172.7" x2="488.3" y2="186.2" stroke="#303030" stroke-width="1.65" stroke-linecap="round" />
<line x1="489" y1="185" x2="497.87" y2="190.34" stroke="#303030" stroke-width="1.65" stroke-linecap="round" />
<line x1="487.6" y1="187.4" x2="496.47" y2="192.74" stroke="#303030" stroke-width="1.65" stroke-linecap="round" />
<line x1="488.3" y1="186.2" x2="480.6" y2="190.9" stroke="#303030" stroke-width="1.65" stroke-linecap="round" />
<text x="500.6" y="196.6" font-family="'Liberation Sans', sans-serif" font-size="8.4" font-weight="bold" text-anchor="middle" fill="#303030"  stroke="#303030" stroke-width="0.45">O</text>
<text x="472.4" y="196.6" font-family="'Liberation Sans', sans-serif" font-size="8" font-weight="bold" text-anchor="middle" fill="#303030"  stroke="#303030" stroke-width="0.45">HO</text>
<text x="461.9" y="235.3" font-family="'Liberation Sans', sans-serif" font-size="14.6" font-weight="bold" text-anchor="start" fill="#2d63b0" stroke="none" textLength="60" lengthAdjust="spacingAndGlyphs">EADR03</text>
<g filter="url(#soft3)">
<text x="0" y="0" font-family="'Liberation Sans', sans-serif" font-size="56" font-weight="bold" fill="#2b2b2b" stroke="#2b2b2b" stroke-width="3.4" stroke-linejoin="miter" transform="translate(333.6 176.8) skewX(-25) scale(0.74 1)">S</text>
<polygon points="313.6,138.2 324.2,133.4 326.4,156.6 340.0,133.4 350.2,133.0 331.6,172.6 314.4,172.6" fill="#2b2b2b"/>
<polygon points="362.6,110.8 356.2,133 342.0,160 335.4,172.5 319.0,202.6 331.0,172.5 336.8,160 350.4,133" fill="#2b2b2b"/>
<line x1="359.9" y1="122" x2="327.3" y2="191" stroke="#ffffff" stroke-width="0.9" stroke-linecap="round" />
<line x1="316.5" y1="150" x2="321" y2="135.5" stroke="#ffffff" stroke-width="0.9" stroke-linecap="round" />
<line x1="318.8" y1="146" x2="322.6" y2="134.6" stroke="#ffffff" stroke-width="0.6" stroke-linecap="round" />
<line x1="352.5" y1="176" x2="359.5" y2="160" stroke="#ffffff" stroke-width="0.8" stroke-linecap="round" />
<line x1="356" y1="176" x2="362" y2="163" stroke="#ffffff" stroke-width="0.6" stroke-linecap="round" />
<line x1="366" y1="150" x2="371.5" y2="138.5" stroke="#ffffff" stroke-width="0.8" stroke-linecap="round" />
<line x1="368.5" y1="151" x2="373" y2="141" stroke="#ffffff" stroke-width="0.6" stroke-linecap="round" />
<line x1="317" y1="172" x2="320" y2="164.5" stroke="#ffffff" stroke-width="0.7" stroke-linecap="round" />
<line x1="341.5" y1="178" x2="345" y2="170" stroke="#ffffff" stroke-width="0.7" stroke-linecap="round" />
</g>
<line x1="61" y1="254.9" x2="61" y2="465.7" stroke="#111111" stroke-width="1.9" stroke-linecap="butt" />
<line x1="61.6" y1="255.6" x2="57" y2="255.6" stroke="#111111" stroke-width="1.4" stroke-linecap="butt" />
<text x="52.8" y="259.3" font-family="'Liberation Sans', sans-serif" font-size="10.4" font-weight="bold" text-anchor="end" fill="#111111" stroke="none" textLength="10.6" lengthAdjust="spacingAndGlyphs">-1</text>
<line x1="61.6" y1="290.5" x2="57" y2="290.5" stroke="#111111" stroke-width="1.4" stroke-linecap="butt" />
<text x="52.8" y="294.2" font-family="'Liberation Sans', sans-serif" font-size="10.4" font-weight="bold" text-anchor="end" fill="#111111" stroke="none" textLength="10.6" lengthAdjust="spacingAndGlyphs">-2</text>
<line x1="61.6" y1="325.4" x2="57" y2="325.4" stroke="#111111" stroke-width="1.4" stroke-linecap="butt" />
<text x="52.8" y="329.1" font-family="'Liberation Sans', sans-serif" font-size="10.4" font-weight="bold" text-anchor="end" fill="#111111" stroke="none" textLength="10.6" lengthAdjust="spacingAndGlyphs">-3</text>
<line x1="61.6" y1="360.3" x2="57" y2="360.3" stroke="#111111" stroke-width="1.4" stroke-linecap="butt" />
<text x="52.8" y="364" font-family="'Liberation Sans', sans-serif" font-size="10.4" font-weight="bold" text-anchor="end" fill="#111111" stroke="none" textLength="10.6" lengthAdjust="spacingAndGlyphs">-4</text>
<line x1="61.6" y1="395.2" x2="57" y2="395.2" stroke="#111111" stroke-width="1.4" stroke-linecap="butt" />
<text x="52.8" y="398.9" font-family="'Liberation Sans', sans-serif" font-size="10.4" font-weight="bold" text-anchor="end" fill="#111111" stroke="none" textLength="10.6" lengthAdjust="spacingAndGlyphs">-5</text>
<line x1="61.6" y1="430.1" x2="57" y2="430.1" stroke="#111111" stroke-width="1.4" stroke-linecap="butt" />
<text x="52.8" y="433.8" font-family="'Liberation Sans', sans-serif" font-size="10.4" font-weight="bold" text-anchor="end" fill="#111111" stroke="none" textLength="10.6" lengthAdjust="spacingAndGlyphs">-6</text>
<line x1="61.6" y1="465" x2="57" y2="465" stroke="#111111" stroke-width="1.4" stroke-linecap="butt" />
<text x="52.8" y="468.7" font-family="'Liberation Sans', sans-serif" font-size="10.4" font-weight="bold" text-anchor="end" fill="#111111" stroke="none" textLength="10.6" lengthAdjust="spacingAndGlyphs">-7</text>
<line x1="61" y1="273.05" x2="58.6" y2="273.05" stroke="#111111" stroke-width="1.1" stroke-linecap="butt" />
<line x1="61" y1="307.95" x2="58.6" y2="307.95" stroke="#111111" stroke-width="1.1" stroke-linecap="butt" />
<line x1="61" y1="342.85" x2="58.6" y2="342.85" stroke="#111111" stroke-width="1.1" stroke-linecap="butt" />
<line x1="61" y1="377.75" x2="58.6" y2="377.75" stroke="#111111" stroke-width="1.1" stroke-linecap="butt" />
<line x1="61" y1="412.65" x2="58.6" y2="412.65" stroke="#111111" stroke-width="1.1" stroke-linecap="butt" />
<line x1="61" y1="447.55" x2="58.6" y2="447.55" stroke="#111111" stroke-width="1.1" stroke-linecap="butt" />
<circle cx="48.3" cy="479.4" r="0.9" fill="#333"/>
<text x="0" y="0" font-family="'Liberation Sans', sans-serif" font-size="18.1" font-weight="normal" text-anchor="middle" fill="#111111" stroke="none" transform="translate(35.6 359.7) rotate(-90)">Energy (eV)</text>
<text x="96.1" y="358.2" font-family="'Liberation Sans', sans-serif" font-size="12.5" font-weight="bold" text-anchor="middle" fill="#111111"  stroke="#111111" stroke-width="0.25">ITO</text>
<rect x="82.2" y="364.0" width="26.6" height="4.0" fill="#000"/>
<text x="93.8" y="379.8" font-family="'Liberation Sans', sans-serif" font-size="11.6" font-weight="bold" text-anchor="middle" fill="#111111"  stroke="#111111" stroke-width="0.25">-4.2</text>
<rect x="160.5" y="281.2" width="29.7" height="115.8" fill="#7b3f1b"/>
<rect x="202.6" y="333.0" width="30.2" height="67.4" fill="#b8261f"/>
<rect x="120.0" y="402.0" width="30.2" height="71.6" fill="#5d8a3c"/>
<text x="0" y="0" font-family="'Liberation Sans', sans-serif" font-size="10.6" font-weight="normal" text-anchor="middle" fill="#ffffff" transform="translate(179.6 339.2) rotate(-90)" stroke="#ffffff" stroke-width="0.25">EADR03</text>
<text x="0" y="0" font-family="'Liberation Sans', sans-serif" font-size="10.2" font-weight="normal" text-anchor="middle" fill="#ffffff" transform="translate(223.4 366.4) rotate(-90)" stroke="#ffffff" stroke-width="0.25">TEA<tspan font-size="6.6" dy="2">2</tspan><tspan dy="-2">SnI</tspan><tspan font-size="6.6" dy="2">4</tspan></text>
<text x="-32.5" y="0" font-family="'Liberation Sans', sans-serif" font-size="12.4" font-weight="normal" text-anchor="start" fill="#ffffff" textLength="65" lengthAdjust="spacingAndGlyphs" transform="translate(130.6 437.4) rotate(90)" stroke="#ffffff" stroke-width="0.25">PEDOT:PSS</text>
<text x="174.6" y="278.8" font-family="'Liberation Sans', sans-serif" font-size="10.9" font-weight="bold" text-anchor="middle" fill="#111111" textLength="27.2" lengthAdjust="spacingAndGlyphs" stroke="#111111" stroke-width="0.25">-1.77</text>
<text x="216" y="329.6" font-family="'Liberation Sans', sans-serif" font-size="10.9" font-weight="bold" text-anchor="middle" fill="#111111" textLength="27.2" lengthAdjust="spacingAndGlyphs" stroke="#111111" stroke-width="0.25">-3.22</text>
<text x="132.3" y="398.5" font-family="'Liberation Sans', sans-serif" font-size="10.9" font-weight="bold" text-anchor="middle" fill="#111111" textLength="27.2" lengthAdjust="spacingAndGlyphs" stroke="#111111" stroke-width="0.25">-5.20</text>
<text x="175" y="411.4" font-family="'Liberation Sans', sans-serif" font-size="10.9" font-weight="bold" text-anchor="middle" fill="#111111" textLength="27.2" lengthAdjust="spacingAndGlyphs" stroke="#111111" stroke-width="0.25">-5.05</text>
<text x="217.6" y="413" font-family="'Liberation Sans', sans-serif" font-size="10.9" font-weight="bold" text-anchor="middle" fill="#111111" textLength="27.2" lengthAdjust="spacingAndGlyphs" stroke="#111111" stroke-width="0.25">-5.16</text>
<path d="M221.0 304.0 Q226.2 310.4 222.3 318.4" fill="none" stroke="#e3342c" stroke-width="4.0" stroke-linecap="round"/>
<path d="M210.4 297.2 Q203.0 293.6 196.4 296.2" fill="none" stroke="#e3342c" stroke-width="3.3" stroke-linecap="butt"/>
<polygon points="192.6,299.0 195.2,292.6 200.6,299.0" fill="#e3342c"/>
<g transform="translate(217.7 299.1) rotate(-9)"><path d="M-2.3 -7.9 H2.3 V-2.3 H8.6 V2.3 H2.3 V7.9 H-2.3 V2.3 H-8.6 V-2.3 H-2.3 Z" fill="#f3d132" stroke="#2e2828" stroke-width="1.5" stroke-linejoin="round"/></g>
<text x="225.8" y="295.8" font-family="'Liberation Sans', sans-serif" font-size="14.8" font-weight="bold" text-anchor="start" fill="#111111"  stroke="#111111" stroke-width="0.25">e<tspan font-size="10" dy="-5.4">-</tspan></text>
<path d="M152.4 417.1 L159.5 417.1 C163 440 213 442 222.6 421.2 L220.0 420.2 L225.9 415.8 L230.9 422.8 L227.6 421.9 C218 446 158 448 152.4 417.1 Z" fill="url(#arrB)"/>
<path d="M173.9 413.7 L180.3 413.7 C182 432 203 432 209.4 418.2 L206.5 417.6 L212.5 413.4 L217.2 419.2 L214.4 418.7 C206 437 176 437 173.9 413.7 Z" fill="url(#arrB)"/>
<text x="190" y="424.6" font-family="'Liberation Sans', sans-serif" font-size="14.6" font-weight="bold" text-anchor="start" fill="#111111"  stroke="#111111" stroke-width="0.25">h<tspan font-size="9.5" dy="-5">+</tspan></text>
<text x="154.4" y="449.6" font-family="'Liberation Sans', sans-serif" font-size="14.6" font-weight="bold" text-anchor="start" fill="#111111"  stroke="#111111" stroke-width="0.25">h<tspan font-size="9.5" dy="-5">+</tspan></text>
<rect x="364.6" y="262.3" width="249.6" height="199.2" fill="#fff" stroke="#111111" stroke-width="2"/>
<line x1="364.6" y1="262.3" x2="360" y2="262.3" stroke="#111111" stroke-width="1.3" stroke-linecap="butt" />
<text x="357" y="266" font-family="'Liberation Sans', sans-serif" font-size="10.4" font-weight="normal" text-anchor="end" fill="#111111" stroke="#111111" stroke-width="0.5">10</text>
<line x1="364.6" y1="308.71" x2="362" y2="308.71" stroke="#111111" stroke-width="0.9" stroke-linecap="butt" />
<line x1="364.6" y1="297.02" x2="362" y2="297.02" stroke="#111111" stroke-width="0.9" stroke-linecap="butt" />
<line x1="364.6" y1="288.72" x2="362" y2="288.72" stroke="#111111" stroke-width="0.9" stroke-linecap="butt" />
<line x1="364.6" y1="282.29" x2="362" y2="282.29" stroke="#111111" stroke-width="0.9" stroke-linecap="butt" />
<line x1="364.6" y1="277.03" x2="362" y2="277.03" stroke="#111111" stroke-width="0.9" stroke-linecap="butt" />
<line x1="364.6" y1="272.59" x2="362" y2="272.59" stroke="#111111" stroke-width="0.9" stroke-linecap="butt" />
<line x1="364.6" y1="268.73" x2="362" y2="268.73" stroke="#111111" stroke-width="0.9" stroke-linecap="butt" />
<line x1="364.6" y1="265.34" x2="362" y2="265.34" stroke="#111111" stroke-width="0.9" stroke-linecap="butt" />
<line x1="364.6" y1="328.7" x2="360" y2="328.7" stroke="#111111" stroke-width="1.3" stroke-linecap="butt" />
<text x="357" y="332.4" font-family="'Liberation Sans', sans-serif" font-size="10.4" font-weight="normal" text-anchor="end" fill="#111111" stroke="#111111" stroke-width="0.5">1</text>
<line x1="364.6" y1="375.11" x2="362" y2="375.11" stroke="#111111" stroke-width="0.9" stroke-linecap="butt" />
<line x1="364.6" y1="363.42" x2="362" y2="363.42" stroke="#111111" stroke-width="0.9" stroke-linecap="butt" />
<line x1="364.6" y1="355.12" x2="362" y2="355.12" stroke="#111111" stroke-width="0.9" stroke-linecap="butt" />
<line x1="364.6" y1="348.69" x2="362" y2="348.69" stroke="#111111" stroke-width="0.9" stroke-linecap="butt" />
<line x1="364.6" y1="343.43" x2="362" y2="343.43" stroke="#111111" stroke-width="0.9" stroke-linecap="butt" />
<line x1="364.6" y1="338.99" x2="362" y2="338.99" stroke="#111111" stroke-width="0.9" stroke-linecap="butt" />
<line x1="364.6" y1="335.13" x2="362" y2="335.13" stroke="#111111" stroke-width="0.9" stroke-linecap="butt" />
<line x1="364.6" y1="331.74" x2="362" y2="331.74" stroke="#111111" stroke-width="0.9" stroke-linecap="butt" />
<line x1="364.6" y1="395.1" x2="360" y2="395.1" stroke="#111111" stroke-width="1.3" stroke-linecap="butt" />
<text x="357" y="398.8" font-family="'Liberation Sans', sans-serif" font-size="10.4" font-weight="normal" text-anchor="end" fill="#111111" stroke="#111111" stroke-width="0.5">0.1</text>
<line x1="364.6" y1="441.51" x2="362" y2="441.51" stroke="#111111" stroke-width="0.9" stroke-linecap="butt" />
<line x1="364.6" y1="429.82" x2="362" y2="429.82" stroke="#111111" stroke-width="0.9" stroke-linecap="butt" />
<line x1="364.6" y1="421.52" x2="362" y2="421.52" stroke="#111111" stroke-width="0.9" stroke-linecap="butt" />
<line x1="364.6" y1="415.09" x2="362" y2="415.09" stroke="#111111" stroke-width="0.9" stroke-linecap="butt" />
<line x1="364.6" y1="409.83" x2="362" y2="409.83" stroke="#111111" stroke-width="0.9" stroke-linecap="butt" />
<line x1="364.6" y1="405.39" x2="362" y2="405.39" stroke="#111111" stroke-width="0.9" stroke-linecap="butt" />
<line x1="364.6" y1="401.53" x2="362" y2="401.53" stroke="#111111" stroke-width="0.9" stroke-linecap="butt" />
<line x1="364.6" y1="398.14" x2="362" y2="398.14" stroke="#111111" stroke-width="0.9" stroke-linecap="butt" />
<line x1="364.6" y1="461.5" x2="360" y2="461.5" stroke="#111111" stroke-width="1.3" stroke-linecap="butt" />
<text x="357" y="465.2" font-family="'Liberation Sans', sans-serif" font-size="10.4" font-weight="normal" text-anchor="end" fill="#111111" stroke="#111111" stroke-width="0.5">0.01</text>
<line x1="394.3" y1="461.5" x2="394.3" y2="466.1" stroke="#111111" stroke-width="1.3" stroke-linecap="butt" />
<text x="394.3" y="478.1" font-family="'Liberation Sans', sans-serif" font-size="10.4" font-weight="normal" text-anchor="middle" fill="#111111" stroke="#111111" stroke-width="0.5">0.1</text>
<line x1="482.9" y1="461.5" x2="482.9" y2="466.1" stroke="#111111" stroke-width="1.3" stroke-linecap="butt" />
<text x="482.9" y="478.1" font-family="'Liberation Sans', sans-serif" font-size="10.4" font-weight="normal" text-anchor="middle" fill="#111111" stroke="#111111" stroke-width="0.5">1</text>
<line x1="571.5" y1="461.5" x2="571.5" y2="466.1" stroke="#111111" stroke-width="1.3" stroke-linecap="butt" />
<text x="571.5" y="478.1" font-family="'Liberation Sans', sans-serif" font-size="10.4" font-weight="normal" text-anchor="middle" fill="#111111" stroke="#111111" stroke-width="0.5">10</text>
<line x1="367.63" y1="461.5" x2="367.63" y2="464.1" stroke="#111111" stroke-width="0.9" stroke-linecap="butt" />
<line x1="374.64" y1="461.5" x2="374.64" y2="464.1" stroke="#111111" stroke-width="0.9" stroke-linecap="butt" />
<line x1="380.58" y1="461.5" x2="380.58" y2="464.1" stroke="#111111" stroke-width="0.9" stroke-linecap="butt" />
<line x1="385.71" y1="461.5" x2="385.71" y2="464.1" stroke="#111111" stroke-width="0.9" stroke-linecap="butt" />
<line x1="390.25" y1="461.5" x2="390.25" y2="464.1" stroke="#111111" stroke-width="0.9" stroke-linecap="butt" />
<line x1="420.97" y1="461.5" x2="420.97" y2="464.1" stroke="#111111" stroke-width="0.9" stroke-linecap="butt" />
<line x1="436.57" y1="461.5" x2="436.57" y2="464.1" stroke="#111111" stroke-width="0.9" stroke-linecap="butt" />
<line x1="447.64" y1="461.5" x2="447.64" y2="464.1" stroke="#111111" stroke-width="0.9" stroke-linecap="butt" />
<line x1="456.23" y1="461.5" x2="456.23" y2="464.1" stroke="#111111" stroke-width="0.9" stroke-linecap="butt" />
<line x1="463.24" y1="461.5" x2="463.24" y2="464.1" stroke="#111111" stroke-width="0.9" stroke-linecap="butt" />
<line x1="469.18" y1="461.5" x2="469.18" y2="464.1" stroke="#111111" stroke-width="0.9" stroke-linecap="butt" />
<line x1="474.31" y1="461.5" x2="474.31" y2="464.1" stroke="#111111" stroke-width="0.9" stroke-linecap="butt" />
<line x1="478.85" y1="461.5" x2="478.85" y2="464.1" stroke="#111111" stroke-width="0.9" stroke-linecap="butt" />
<line x1="509.57" y1="461.5" x2="509.57" y2="464.1" stroke="#111111" stroke-width="0.9" stroke-linecap="butt" />
<line x1="525.17" y1="461.5" x2="525.17" y2="464.1" stroke="#111111" stroke-width="0.9" stroke-linecap="butt" />
<line x1="536.24" y1="461.5" x2="536.24" y2="464.1" stroke="#111111" stroke-width="0.9" stroke-linecap="butt" />
<line x1="544.83" y1="461.5" x2="544.83" y2="464.1" stroke="#111111" stroke-width="0.9" stroke-linecap="butt" />
<line x1="551.84" y1="461.5" x2="551.84" y2="464.1" stroke="#111111" stroke-width="0.9" stroke-linecap="butt" />
<line x1="557.78" y1="461.5" x2="557.78" y2="464.1" stroke="#111111" stroke-width="0.9" stroke-linecap="butt" />
<line x1="562.91" y1="461.5" x2="562.91" y2="464.1" stroke="#111111" stroke-width="0.9" stroke-linecap="butt" />
<line x1="567.45" y1="461.5" x2="567.45" y2="464.1" stroke="#111111" stroke-width="0.9" stroke-linecap="butt" />
<line x1="598.17" y1="461.5" x2="598.17" y2="464.1" stroke="#111111" stroke-width="0.9" stroke-linecap="butt" />
<text x="0" y="0" font-family="'Liberation Sans', sans-serif" font-size="17.2" font-weight="normal" text-anchor="middle" fill="#111111" stroke="#111111" stroke-width="0.25" transform="translate(330.3 362.3) rotate(-90)">EQE (%)</text>
<text x="392" y="503.3" font-family="'Liberation Sans', sans-serif" font-size="17" font-weight="normal" text-anchor="start" fill="#111111" >Current density (mA&#183;cm<tspan font-size="12.6" dy="-6.6">-2</tspan><tspan dy="6.6">)</tspan></text>
<path d="M442.6 327.4 L475.1 331.8 L501.2 333.9 L523 336 L541.4 338.2 L557.4 339.8 L571.3 341.8 L583.2 343.9 L593.8 346.7 L600.4 353.4" fill="none" stroke="#e22f2b" stroke-width="2.0" stroke-linejoin="round"/>
<circle cx="442.6" cy="327.4" r="3.4" fill="#e22f2b"/>
<circle cx="441.9" cy="326.7" r="1.25" fill="#ffffff" opacity="0.88"/>
<circle cx="475.1" cy="331.8" r="3.4" fill="#e22f2b"/>
<circle cx="474.4" cy="331.1" r="1.25" fill="#ffffff" opacity="0.88"/>
<circle cx="501.2" cy="333.9" r="3.4" fill="#e22f2b"/>
<circle cx="500.5" cy="333.2" r="1.25" fill="#ffffff" opacity="0.88"/>
<circle cx="523" cy="336" r="3.4" fill="#e22f2b"/>
<circle cx="522.3" cy="335.3" r="1.25" fill="#ffffff" opacity="0.88"/>
<circle cx="541.4" cy="338.2" r="3.4" fill="#e22f2b"/>
<circle cx="540.7" cy="337.5" r="1.25" fill="#ffffff" opacity="0.88"/>
<circle cx="557.4" cy="339.8" r="3.4" fill="#e22f2b"/>
<circle cx="556.7" cy="339.1" r="1.25" fill="#ffffff" opacity="0.88"/>
<circle cx="571.3" cy="341.8" r="3.4" fill="#e22f2b"/>
<circle cx="570.6" cy="341.1" r="1.25" fill="#ffffff" opacity="0.88"/>
<circle cx="583.2" cy="343.9" r="3.4" fill="#e22f2b"/>
<circle cx="582.5" cy="343.2" r="1.25" fill="#ffffff" opacity="0.88"/>
<circle cx="593.8" cy="346.7" r="3.4" fill="#e22f2b"/>
<circle cx="593.1" cy="346" r="1.25" fill="#ffffff" opacity="0.88"/>
<circle cx="600.4" cy="353.4" r="3.4" fill="#e22f2b"/>
<circle cx="599.7" cy="352.7" r="1.25" fill="#ffffff" opacity="0.88"/>
<path d="M369.5 292.4 L397.6 295.2 L414.5 298.4 L428.8 301.9 L443.7 304.2 L459.6 307 L476.5 309 L493.5 311.6 L508.6 314.3 L522.8 316.4 L537.1 318 L552.4 319.2 L571.6 323.3 L582.1 331.2 L583.6 333.8" fill="none" stroke="#3069b8" stroke-width="2.0" stroke-linejoin="round"/>
<circle cx="369.5" cy="292.4" r="3.4" fill="#3069b8"/>
<circle cx="368.8" cy="291.7" r="1.25" fill="#ffffff" opacity="0.88"/>
<circle cx="397.6" cy="295.2" r="3.4" fill="#3069b8"/>
<circle cx="396.9" cy="294.5" r="1.25" fill="#ffffff" opacity="0.88"/>
<circle cx="414.5" cy="298.4" r="3.4" fill="#3069b8"/>
<circle cx="413.8" cy="297.7" r="1.25" fill="#ffffff" opacity="0.88"/>
<circle cx="428.8" cy="301.9" r="3.4" fill="#3069b8"/>
<circle cx="428.1" cy="301.2" r="1.25" fill="#ffffff" opacity="0.88"/>
<circle cx="443.7" cy="304.2" r="3.4" fill="#3069b8"/>
<circle cx="443" cy="303.5" r="1.25" fill="#ffffff" opacity="0.88"/>
<circle cx="459.6" cy="307" r="3.4" fill="#3069b8"/>
<circle cx="458.9" cy="306.3" r="1.25" fill="#ffffff" opacity="0.88"/>
<circle cx="476.5" cy="309" r="3.4" fill="#3069b8"/>
<circle cx="475.8" cy="308.3" r="1.25" fill="#ffffff" opacity="0.88"/>
<circle cx="493.5" cy="311.6" r="3.4" fill="#3069b8"/>
<circle cx="492.8" cy="310.9" r="1.25" fill="#ffffff" opacity="0.88"/>
<circle cx="508.6" cy="314.3" r="3.4" fill="#3069b8"/>
<circle cx="507.9" cy="313.6" r="1.25" fill="#ffffff" opacity="0.88"/>
<circle cx="522.8" cy="316.4" r="3.4" fill="#3069b8"/>
<circle cx="522.1" cy="315.7" r="1.25" fill="#ffffff" opacity="0.88"/>
<circle cx="537.1" cy="318" r="3.4" fill="#3069b8"/>
<circle cx="536.4" cy="317.3" r="1.25" fill="#ffffff" opacity="0.88"/>
<circle cx="552.4" cy="319.2" r="3.4" fill="#3069b8"/>
<circle cx="551.7" cy="318.5" r="1.25" fill="#ffffff" opacity="0.88"/>
<circle cx="571.6" cy="323.3" r="3.4" fill="#3069b8"/>
<circle cx="570.9" cy="322.6" r="1.25" fill="#ffffff" opacity="0.88"/>
<circle cx="582.1" cy="331.2" r="3.4" fill="#3069b8"/>
<circle cx="581.4" cy="330.5" r="1.25" fill="#ffffff" opacity="0.88"/>
<circle cx="583.6" cy="333.8" r="3.4" fill="#3069b8"/>
<circle cx="582.9" cy="333.1" r="1.25" fill="#ffffff" opacity="0.88"/>
<line x1="370.9" y1="436.4" x2="396.6" y2="436.4" stroke="#e22f2b" stroke-width="1.7" stroke-linecap="butt" />
<circle cx="384.2" cy="436.4" r="3.3" fill="#e22f2b"/>
<circle cx="383.7" cy="435.9" r="1.4" fill="#ffffff" opacity="0.92"/>
<text x="400.2" y="440.4" font-family="'Liberation Sans', sans-serif" font-size="11.2" font-weight="normal" text-anchor="start" fill="#111111" stroke="#111111" stroke-width="0.3">PEDOT:PSS</text>
<line x1="370.9" y1="450.4" x2="396.6" y2="450.4" stroke="#3069b8" stroke-width="1.7" stroke-linecap="butt" />
<circle cx="384.2" cy="450.4" r="3.3" fill="#3069b8"/>
<circle cx="383.7" cy="449.9" r="1.3" fill="#ffffff" opacity="0.8"/>
<text x="400.2" y="454.4" font-family="'Liberation Sans', sans-serif" font-size="11.2" font-weight="normal" text-anchor="start" fill="#111111" stroke="#111111" stroke-width="0.3">EADR03</text>
<g>
<rect x="521.0" y="389.0" width="71.5" height="55.5" fill="#4a1018" filter="url(#blur3)" opacity="0.8"/>
<rect x="522.6" y="390.8" width="68.4" height="51.8" rx="3" fill="#33080d" filter="url(#blur2)"/>
<g filter="url(#blur1)">
<rect x="525" y="392" width="1.6" height="50" fill="#1c0305" opacity="0.35"/>
<rect x="529" y="392" width="1.6" height="50" fill="#5a1018" opacity="0.35"/>
<rect x="533" y="392" width="1.6" height="50" fill="#1c0305" opacity="0.35"/>
<rect x="537" y="392" width="1.6" height="50" fill="#5a1018" opacity="0.35"/>
<rect x="541" y="392" width="1.6" height="50" fill="#1c0305" opacity="0.35"/>
<rect x="545" y="392" width="1.6" height="50" fill="#5a1018" opacity="0.35"/>
<rect x="549" y="392" width="1.6" height="50" fill="#1c0305" opacity="0.35"/>
<rect x="553" y="392" width="1.6" height="50" fill="#5a1018" opacity="0.35"/>
<rect x="557" y="392" width="1.6" height="50" fill="#1c0305" opacity="0.35"/>
<rect x="561" y="392" width="1.6" height="50" fill="#5a1018" opacity="0.35"/>
<rect x="565" y="392" width="1.6" height="50" fill="#1c0305" opacity="0.35"/>
<rect x="569" y="392" width="1.6" height="50" fill="#5a1018" opacity="0.35"/>
<rect x="573" y="392" width="1.6" height="50" fill="#1c0305" opacity="0.35"/>
<rect x="577" y="392" width="1.6" height="50" fill="#5a1018" opacity="0.35"/>
<rect x="581" y="392" width="1.6" height="50" fill="#1c0305" opacity="0.35"/>
<rect x="585" y="392" width="1.6" height="50" fill="#5a1018" opacity="0.35"/>
<rect x="589" y="392" width="1.6" height="50" fill="#1c0305" opacity="0.35"/>
<rect x="526" y="392.5" width="9" height="5" fill="#a01c28" opacity="0.7"/>
<rect x="545" y="392" width="16" height="4" fill="#b02430" opacity="0.7"/>
<rect x="566.5" y="391.5" width="10" height="4" fill="#8a1822" opacity="0.7"/>
<circle cx="553.6" cy="418.2" r="18.5" fill="#2a0509" opacity="0.8"/>
</g>
<g filter="url(#soft2)">
<circle cx="552.4" cy="418.2" r="24.2" fill="none" stroke="#d83842" stroke-width="1.0"/>
<ellipse cx="555.2" cy="417.4" rx="19.4" ry="18.8" fill="none" stroke="#c8303a" stroke-width="0.9"/>
</g>
<rect x="540.0" y="406.4" width="29.4" height="24.6" fill="#d8363f" opacity="0.75" filter="url(#blur2)"/>
<g filter="url(#soft2)">
<rect x="541.3" y="408" width="12.4" height="10.8" fill="#ee6a70"/>
<rect x="542.2" y="408.9" width="10.6" height="9" fill="#fffaf8"/>
<rect x="555.3" y="407" width="12.5" height="10.6" fill="#ee6a70"/>
<rect x="556.2" y="407.9" width="10.7" height="8.8" fill="#fffaf8"/>
<rect x="542.2" y="420" width="11.9" height="10.8" fill="#ee6a70"/>
<rect x="543.1" y="420.9" width="10.1" height="9" fill="#fffaf8"/>
<rect x="556" y="419" width="11.8" height="10.4" fill="#ee6a70"/>
<rect x="556.9" y="419.9" width="10" height="8.6" fill="#fffaf8"/>
<line x1="538.9" y1="415.3" x2="542.4" y2="415.3" stroke="#fff0ee" stroke-width="1.7" stroke-linecap="butt" />
<line x1="566.8" y1="413.6" x2="570.2" y2="413.6" stroke="#fff0ee" stroke-width="1.7" stroke-linecap="butt" />
<line x1="539.3" y1="423.8" x2="543.2" y2="423.8" stroke="#fff0ee" stroke-width="1.7" stroke-linecap="butt" />
<line x1="566.8" y1="422" x2="570.5" y2="422" stroke="#fff0ee" stroke-width="1.7" stroke-linecap="butt" />
</g></g>
</g>
</svg>
</body></html>
